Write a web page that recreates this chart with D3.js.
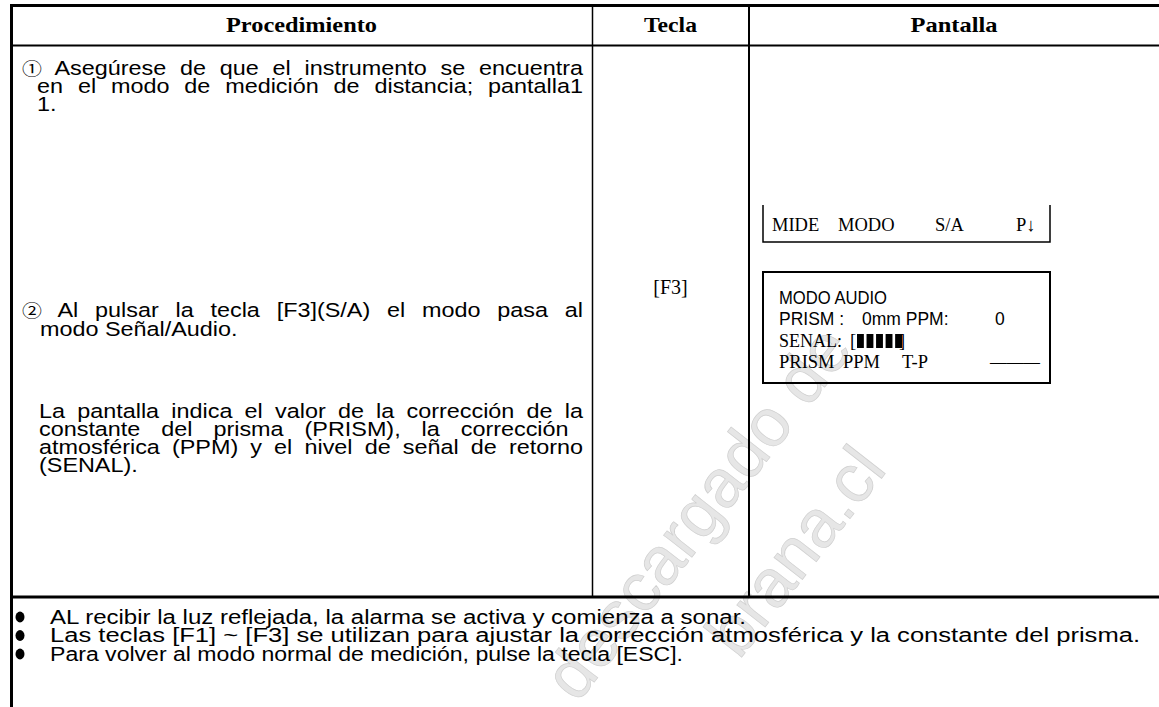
<!DOCTYPE html>
<html><head><meta charset="utf-8">
<script src="https://cdn.jsdelivr.net/npm/d3@7"></script>
<style>html,body{margin:0;padding:0;background:#fff;}svg{display:block;}</style>
</head><body>
<svg id="c" width="1159" height="707"></svg>
<script>
// ---------- content ----------
const headers = ["Procedimiento", "Tecla", "Pantalla"];
const stepMarks = ["①", "②"];
const step1Lines = ["Asegúrese de que el instrumento se encuentra", "en el modo de medición de distancia; pantalla1", "1."];
const step2Lines = ["Al pulsar la tecla [F3](S/A) el modo pasa al", "modo Señal/Audio."];
const noteLines = ["La pantalla indica el valor de la corrección de la", "constante del prisma  (PRISM), la corrección", "atmosférica (PPM) y el nivel de señal de retorno", "(SENAL)."];
const keyLabels = ["[F3]"];
const softKeys = ["MIDE", "MODO", "S/A", "P↓"];
const audioTitle = ["MODO AUDIO"];
const audioPrism = ["PRISM :", "0mm PPM:", "0"];
const signalLabel = ["SENAL:", "[", "]"];
const signalBars = [1, 1, 1, 1, 1];
const audioKeys = ["PRISM", "PPM", "T-P", "———"];
const bullets = [
  "AL recibir la luz reflejada, la alarma se activa y comienza a sonar.",
  "Las teclas [F1] ~ [F3] se utilizan para ajustar la corrección atmosférica y la constante del prisma.",
  "Para volver al modo normal de medición, pulse la tecla [ESC]."
];
const watermark = ["descargado de", "brana.cl"];

// ---------- setup ----------
const W = 1159, H = 707;
const svg = d3.select("#c");
const ARIAL = "Arial, 'Liberation Sans', sans-serif";
const TIMES = "'Times New Roman', 'Liberation Serif', serif";
const CJK = "'Noto Sans CJK JP', 'DejaVu Sans', sans-serif";

const colEdges = [11, 592, 749, 1159];
const colX = d3.scaleOrdinal().domain(headers).range(colEdges.slice(0, 3));
const colR = d3.scaleOrdinal().domain(headers).range(colEdges.slice(1));

// watermark
const wm = svg.append("g").attr("fill", "#e6e6e6").attr("stroke", "#d0d0d0").attr("stroke-width", 0.7)
  .attr("font-family", ARIAL).attr("font-size", 68);
wm.append("text").attr("transform", "translate(697,512) rotate(-52)").attr("text-anchor", "middle")
  .attr("dy", "0.35em").text(watermark[0]);
wm.append("text").attr("transform", "translate(888,470) rotate(-52)").attr("text-anchor", "end")
  .text(watermark[1]);

// text helper: horizontally scaled text, optional justification or fixed width
function stxt(parent, o) {
  const g = parent.append("g").attr("transform", `translate(${o.x},${o.y}) scale(${o.sx || 1},1)`);
  const t = g.append("text").attr("font-family", o.font).attr("font-size", o.size)
    .attr("font-weight", o.weight || "normal").attr("text-anchor", o.anchor || "start").attr("fill", "#000");
  if (o.mark) t.append("tspan").attr("font-family", CJK).attr("font-size", o.size * 0.85).text(o.mark);
  t.append("tspan").text((o.mark ? " " : "") + o.text);
  if (o.target) {
    const L = t.node().getComputedTextLength();
    const full = (o.mark ? o.mark + " " : "") + o.text;
    const n = (full.match(/ /g) || []).length;
    if (n) t.attr("word-spacing", ((o.target / (o.sx || 1)) - L) / n);
  }
  if (o.width) t.attr("textLength", o.width).attr("lengthAdjust", "spacingAndGlyphs");
  return t;
}

// ---------- headers ----------
const headBase = 32;
const headWidths = [151, 53, 87];
headers.forEach((h, i) => {
  stxt(svg, {x: (colX(h) + colR(h)) / 2, y: headBase, text: h, font: TIMES, size: 22, weight: "bold",
    anchor: "middle", width: headWidths[i]});
});

// ---------- column 1 ----------
const BODY = 19.5, SX = 1.2, RIGHT = 583, LH = 18;
const y1 = d3.scaleLinear().domain([0, 1]).range([74.5, 74.5 + LH]);
step1Lines.forEach((s, i) => {
  const x = i === 0 ? 22 : 37;
  stxt(svg, {x, y: y1(i), text: s, font: ARIAL, size: BODY, sx: SX, mark: i === 0 ? stepMarks[0] : null,
    target: i < step1Lines.length - 1 ? RIGHT - x : null});
});
const y2 = d3.scaleLinear().domain([0, 1]).range([316.5, 336]);
step2Lines.forEach((s, i) => {
  const x = i === 0 ? 22 : 40;
  stxt(svg, {x, y: y2(i), text: s, font: ARIAL, size: BODY, sx: SX, mark: i === 0 ? stepMarks[1] : null,
    target: i < step2Lines.length - 1 ? RIGHT - x : null});
});
const y3 = d3.scaleLinear().domain([0, 1]).range([417.5, 417.5 + LH]);
noteLines.forEach((s, i) => {
  const x = 39;
  stxt(svg, {x, y: y3(i), text: s, font: ARIAL, size: BODY, sx: SX,
    target: i < noteLines.length - 1 ? RIGHT - x : null});
});

// ---------- column 2 ----------
keyLabels.forEach(k => {
  stxt(svg, {x: (colX("Tecla") + colR("Tecla")) / 2, y: 293.5, text: k, font: TIMES, size: 20, anchor: "middle"});
});

// ---------- column 3 ----------
const boxL = 763, boxR = 1050;
// soft key strip (open top)
const midTop = 205, midBot = 242;
svg.append("path").attr("d", `M${boxL},${midTop}V${midBot}H${boxR}V${midTop}`)
  .attr("fill", "none").attr("stroke", "#000").attr("stroke-width", 1.5);
const skX = d3.scaleOrdinal().domain(softKeys).range([772, 838, 935, 1016]);
softKeys.forEach(k => stxt(svg, {x: skX(k), y: 230.5, text: k, font: TIMES, size: 18.5}));

// audio box
const aTop = 272, aBot = 383;
svg.append("rect").attr("x", boxL).attr("y", aTop).attr("width", boxR - boxL).attr("height", aBot - aTop)
  .attr("fill", "none").attr("stroke", "#000").attr("stroke-width", 2);
const ay = d3.scaleLinear().domain([0, 1]).range([303.5, 325]);
const tx = 779;
stxt(svg, {x: tx, y: ay(0), text: audioTitle[0], font: ARIAL, size: 17.5, width: 108});
const prX = d3.scaleOrdinal().domain(audioPrism).range([779, 862, 995]);
audioPrism.forEach(p => stxt(svg, {x: prX(p), y: ay(1), text: p, font: ARIAL, size: 17.5}));
const senY = ay(2);
stxt(svg, {x: tx, y: senY, text: signalLabel[0], font: TIMES, size: 18.5, width: 63});
stxt(svg, {x: 850, y: senY, text: signalLabel[1], font: TIMES, size: 18.5});
const barX = d3.scaleBand().domain(d3.range(signalBars.length)).range([857, 902]).paddingInner(0.28);
const barY = d3.scaleLinear().domain([0, 1]).range([senY + 1.5, senY - 12.5]);
svg.selectAll("rect.bar").data(signalBars).join("rect").attr("class", "bar")
  .attr("x", (d, i) => barX(i)).attr("width", barX.bandwidth())
  .attr("y", d => barY(d)).attr("height", d => barY(0) - barY(d)).attr("fill", "#000");
stxt(svg, {x: 899, y: senY, text: signalLabel[2], font: TIMES, size: 18.5});
const keyY = ay(3);
const akX = d3.scaleOrdinal().domain(audioKeys).range([779, 843, 902, 990]);
audioKeys.forEach((k, i) => stxt(svg, {x: akX(k), y: keyY, text: k, font: TIMES, size: 18.5, width: i === 3 ? 50 : null}));

// ---------- bullets ----------
const by = d3.scaleLinear().domain([0, 1]).range([623.5, 642]);
const bulletEnds = [746, 1140, 683];
svg.selectAll("ellipse.dot").data(bullets).join("ellipse").attr("class", "dot")
  .attr("cx", 20).attr("cy", (d, i) => by(i) - 6.5).attr("rx", 4.5).attr("ry", 5.4).attr("fill", "#000");
bullets.forEach((b, i) => stxt(svg, {x: 50, y: by(i), text: b, font: ARIAL, size: BODY, width: bulletEnds[i] - 50}));

// ---------- grid lines ----------
const grid = svg.append("g").attr("stroke", "#000");
grid.append("line").attr("x1", 10).attr("x2", W).attr("y1", 5.5).attr("y2", 5.5).attr("stroke-width", 3);
grid.append("line").attr("x1", 11.5).attr("x2", 11.5).attr("y1", 4).attr("y2", H).attr("stroke-width", 3);
grid.append("line").attr("x1", 11).attr("x2", W).attr("y1", 45.5).attr("y2", 45.5).attr("stroke-width", 2.2);
grid.append("line").attr("x1", 592.5).attr("x2", 592.5).attr("y1", 5).attr("y2", 597).attr("stroke-width", 1.5);
grid.append("line").attr("x1", 749).attr("x2", 749).attr("y1", 5).attr("y2", 597).attr("stroke-width", 2);
grid.append("line").attr("x1", 11).attr("x2", W).attr("y1", 597).attr("y2", 597).attr("stroke-width", 3);
</script>
</body></html>
